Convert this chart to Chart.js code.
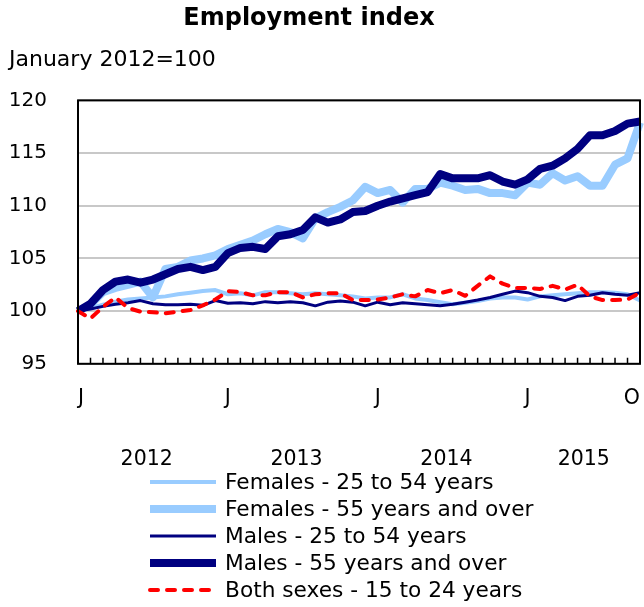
<!DOCTYPE html>
<html>
<head>
<meta charset="utf-8">
<title>Employment index</title>
<script src="https://cdn.jsdelivr.net/npm/chart.js@4.4.1/dist/chart.umd.min.js"></script>
<style>
  html, body { margin: 0; padding: 0; background: #fff; }
  #wrap { width: 644px; height: 607px; }
</style>
</head>
<body>
<div id="wrap"><canvas id="employmentChart" width="644" height="607"></canvas></div>
<script>
// Employment index, January 2012 = 100, monthly from Jan 2012 to Oct 2015
const monthNames = ['Jan', 'Feb', 'Mar', 'Apr', 'May', 'Jun', 'Jul', 'Aug', 'Sep', 'Oct', 'Nov', 'Dec'];
const years = ['2012', '2013', '2014', '2015'];
const lastYearMonths = 10;

const femalesCore = [100.0, 100.3, 100.6, 100.9, 101.1, 101.2, 101.3, 101.4, 101.6, 101.75, 101.9, 102.0,
  101.6, 101.7, 101.5, 101.8, 101.8, 101.7, 101.6, 101.7, 101.6, 101.5, 101.4, 101.2,
  101.3, 101.3, 101.6, 101.2, 101.05, 100.85, 100.65, 100.8, 100.95, 101.2, 101.3, 101.3,
  101.1, 101.4, 101.5, 101.6, 101.7, 101.8, 101.8, 101.75, 101.6, 101.0];
const femalesOlder = [100.0, 100.6, 101.8, 102.2, 102.5, 102.8, 101.3, 104.0, 104.2, 104.8, 105.0, 105.3,
  105.9, 106.3, 106.7, 107.3, 107.8, 107.5, 106.9, 108.8, 109.4, 109.9, 110.5, 111.8,
  111.2, 111.5, 110.3, 111.6, 111.6, 112.2, 111.9, 111.5, 111.6, 111.2, 111.2, 111.0,
  112.2, 112.0, 113.1, 112.4, 112.8, 111.9, 111.9, 113.9, 114.5, 117.9];
const malesCore = [100.0, 100.2, 100.45, 100.65, 100.8, 101.0, 100.7, 100.6, 100.6, 100.65, 100.55, 101.0,
  100.75, 100.8, 100.7, 100.9, 100.8, 100.9, 100.8, 100.5, 100.85, 100.95, 100.85, 100.5,
  100.85, 100.6, 100.8, 100.7, 100.6, 100.5, 100.65, 100.85, 101.05, 101.3, 101.6, 101.9,
  101.75, 101.4, 101.3, 101.0, 101.4, 101.5, 101.75, 101.6, 101.5, 101.75];
const malesOlder = [100.0, 100.7, 102.0, 102.8, 103.0, 102.7, 103.0, 103.5, 104.0, 104.2, 103.9, 104.2,
  105.5, 106.0, 106.1, 105.9, 107.1, 107.3, 107.7, 108.9, 108.4, 108.7, 109.4, 109.5,
  110.0, 110.4, 110.7, 111.0, 111.3, 113.0, 112.6, 112.6, 112.6, 112.9, 112.3, 112.0,
  112.5, 113.5, 113.8, 114.5, 115.4, 116.7, 116.7, 117.1, 117.8, 118.0];
const youth = [100.0, 99.3, 100.4, 101.3, 100.3, 99.95, 99.9, 99.8, 99.95, 100.1, 100.55, 101.1,
  101.9, 101.8, 101.5, 101.5, 101.8, 101.8, 101.3, 101.6, 101.7, 101.7, 101.05, 101.05,
  101.1, 101.3, 101.6, 101.4, 102.0, 101.7, 102.0, 101.45, 102.4, 103.3, 102.6, 102.2,
  102.2, 102.1, 102.4, 102.05, 102.5, 101.4, 101.05, 101.05, 101.1, 101.75];

const yTicks = [95, 100, 105, 110, 115, 120];

// category labels like "Jan 2012"
const categories = [];
years.forEach((yr, yi) => {
  const n = yi === years.length - 1 ? lastYearMonths : 12;
  for (let m = 0; m < n; m++) categories.push(monthNames[m] + ' ' + yr);
});
// year labels sit in the middle of each year's months
const yearCentres = years.map(yr => {
  const idx = categories.map((c, i) => c.endsWith(yr) ? i : -1).filter(i => i >= 0);
  return (idx[0] + idx[idx.length - 1]) / 2;
});

const LIGHT = '#99ccff';
const NAVY = '#000080';
const RED = '#ff0000';
const FONT = '"DejaVu Sans", Verdana, sans-serif';

Chart.defaults.font.family = FONT;
Chart.defaults.color = '#000';

// title sits a little left of the canvas centre, as in the source
const chartTitle = {
  id: 'chartTitle',
  afterDraw(chart) {
    const ctx = chart.ctx;
    ctx.save();
    ctx.font = 'bold 24px ' + FONT;
    ctx.textAlign = 'center';
    ctx.textBaseline = 'middle';
    ctx.fillStyle = '#000';
    ctx.fillText('Employment index', 309, 19);
    ctx.restore();
  }
};

// month tick marks inside the plot and the black frame
const frameTicks = {
  id: 'frameTicks',
  afterDatasetsDraw(chart) {
    const { ctx, chartArea: a, scales: { x } } = chart;
    ctx.save();
    ctx.strokeStyle = '#000';
    ctx.lineWidth = 1.5;
    ctx.beginPath();
    categories.forEach((c, i) => {
      const px = x.getPixelForValue(i);
      ctx.moveTo(px, a.bottom);
      ctx.lineTo(px, a.bottom - 6);
    });
    ctx.stroke();
    ctx.lineWidth = 2;
    ctx.strokeRect(a.left, a.top, a.right - a.left, a.bottom - a.top);
    ctx.restore();
  }
};

// one legend entry per row, under the year labels
const stackedLegend = {
  id: 'stackedLegend',
  afterDraw(chart) {
    const ctx = chart.ctx;
    const x0 = 148, x1 = 218, top = chart.height - 125, step = 27;
    ctx.save();
    ctx.font = '21.7px ' + FONT;
    ctx.textBaseline = 'middle';
    ctx.fillStyle = '#000';
    chart.data.datasets.forEach((ds, i) => {
      const y = top + i * step;
      ctx.beginPath();
      ctx.strokeStyle = ds.borderColor;
      ctx.lineWidth = ds.borderWidth;
      ctx.lineCap = ds.borderCapStyle || 'butt';
      ctx.setLineDash(ds.borderDash || []);
      ctx.moveTo(x0 + 2, y);
      ctx.lineTo(x1 - 2, y);
      ctx.stroke();
      ctx.setLineDash([]);
      ctx.fillText(ds.label, x1 + 7, y + 1);
    });
    ctx.restore();
  }
};

new Chart(document.getElementById('employmentChart'), {
  type: 'line',
  data: {
    labels: categories,
    datasets: [
      { label: 'Females - 25 to 54 years', data: femalesCore, borderColor: LIGHT, borderWidth: 4, order: 4 },
      { label: 'Females - 55 years and over', data: femalesOlder, borderColor: LIGHT, borderWidth: 8, order: 3 },
      { label: 'Males - 25 to 54 years', data: malesCore, borderColor: NAVY, borderWidth: 3, order: 2 },
      { label: 'Males - 55 years and over', data: malesOlder, borderColor: NAVY, borderWidth: 8, order: 1 },
      { label: 'Both sexes - 15 to 24 years', data: youth, borderColor: RED, borderWidth: 4,
        borderDash: [8, 9], borderCapStyle: 'round', order: 0 }
    ]
  },
  options: {
    responsive: false,
    animation: false,
    devicePixelRatio: 1,
    layout: { padding: { left: 9, right: 4, top: 47, bottom: 122 } },
    elements: {
      point: { radius: 0 },
      line: { tension: 0, borderJoinStyle: 'round', fill: false }
    },
    plugins: {
      legend: { display: false },
      tooltip: { enabled: false },
      title: { display: false },
      subtitle: {
        display: true,
        text: 'January 2012=100',
        align: 'start',
        font: { size: 22 },
        padding: { top: 0, bottom: 27 }
      }
    },
    scales: {
      x: {
        type: 'category',
        weight: 0,
        grid: { display: false, drawTicks: false },
        border: { display: false },
        afterFit(scale) {
          scale.paddingLeft = 0;
          scale.paddingRight = 0;
        },
        ticks: {
          autoSkip: false,
          maxRotation: 0,
          align: 'inner',
          padding: 23,
          font: { size: 20.5 },
          callback(v, i) {
            if (i % 12 === 0 || i === categories.length - 1) return categories[i].charAt(0);
            return '';
          }
        }
      },
      x2: {
        type: 'linear',
        position: 'bottom',
        weight: 1,
        min: 0,
        max: categories.length - 1,
        grid: { display: false, drawTicks: false },
        border: { display: false },
        afterBuildTicks(scale) {
          scale.ticks = yearCentres.map(v => ({ value: v }));
        },
        afterFit(scale) {
          scale.paddingLeft = 0;
          scale.paddingRight = 0;
        },
        ticks: {
          padding: 13,
          font: { size: 20.5 },
          callback(v) {
            return years[yearCentres.indexOf(v)];
          }
        }
      },
      y: {
        min: 95,
        max: 120,
        afterBuildTicks(scale) {
          scale.ticks = yTicks.map(v => ({ value: v }));
        },
        afterFit(scale) { scale.width = 69; },
        grid: { color: '#c8c8c8', lineWidth: 2, drawTicks: false },
        border: { display: false },
        ticks: { padding: 31, font: { size: 20 } }
      }
    }
  },
  plugins: [chartTitle, frameTicks, stackedLegend]
});
</script>
</body>
</html>
